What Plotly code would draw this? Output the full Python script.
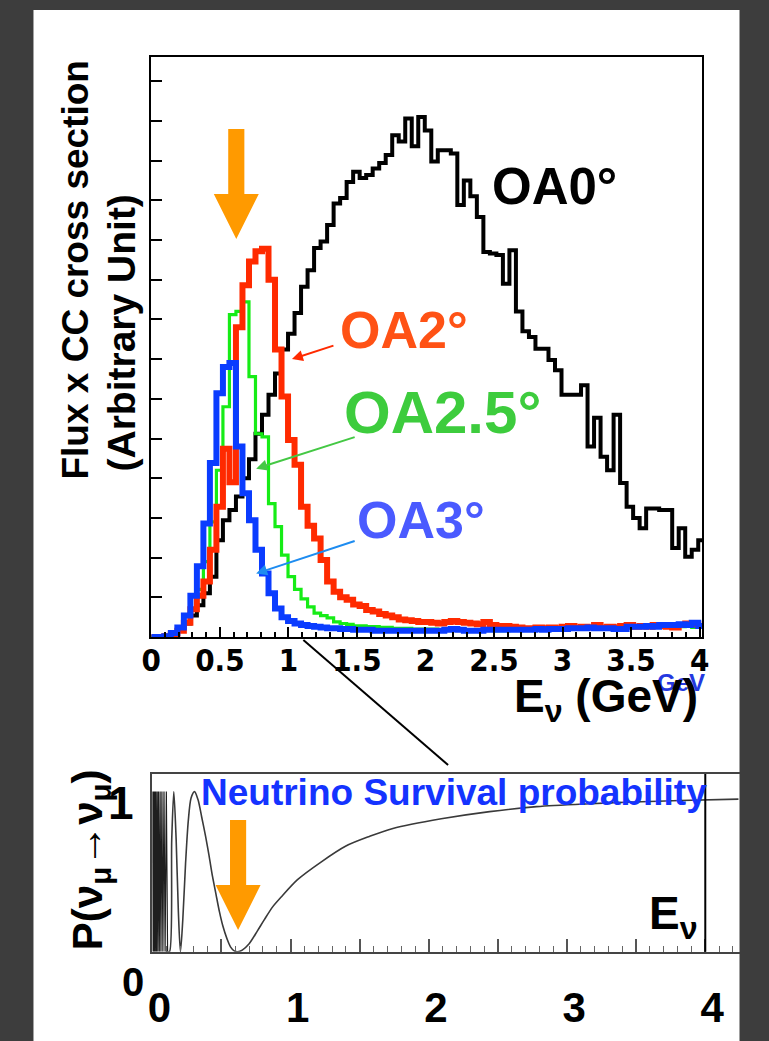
import numpy as np
import plotly.graph_objects as go

W, H = 769, 1041

# ---- flux x CC cross section (arbitrary units), bins of 0.0475 GeV from 0 ----
bin_width = 0.0475
oa0 = [0.00, 0.00, 0.01, 0.04, 0.10, 0.17, 0.27, 0.40, 0.55, 0.76,
       1.22, 1.47, 1.60, 1.77, 2.00, 2.24, 2.56, 2.80, 3.05, 3.32,
       3.62, 3.82, 4.08, 4.41, 4.62, 4.90, 4.98, 5.19, 5.46, 5.53,
       5.73, 5.86, 5.78, 5.82, 5.90, 5.97, 6.07, 6.32, 6.24, 6.53,
       6.18, 6.55, 6.38, 5.99, 6.13, 6.13, 6.09, 5.44, 5.75, 5.55,
       5.29, 4.85, 4.83, 4.81, 4.45, 4.87, 4.10, 3.85, 3.78, 3.63,
       3.63, 3.49, 3.36, 3.05, 3.05, 3.05, 3.17, 2.40, 2.76, 2.27,
       2.10, 2.80, 1.94, 1.64, 1.50, 1.37, 1.62, 1.62, 1.60, 1.60,
       1.12, 1.37, 1.01, 1.10, 1.22]
oa2 = [0.00, 0.00, 0.01, 0.03, 0.08, 0.18, 0.35, 0.52, 0.70, 1.10,
       1.64, 2.37, 1.95, 3.90, 4.43, 4.73, 4.86, 4.89, 4.50, 3.62,
       3.03, 2.48, 2.17, 1.64, 1.40, 1.24, 0.97, 0.70, 0.57, 0.50,
       0.47, 0.41, 0.39, 0.34, 0.32, 0.29, 0.27, 0.25, 0.22, 0.21,
       0.20, 0.19, 0.19, 0.18, 0.17, 0.19, 0.20, 0.19, 0.18, 0.17,
       0.16, 0.19, 0.15, 0.14, 0.14, 0.13, 0.12, 0.11, 0.11, 0.12,
       0.11, 0.12, 0.11, 0.13, 0.14, 0.12, 0.13, 0.12, 0.15, 0.12,
       0.13, 0.12, 0.14, 0.15, 0.13, 0.14, 0.13, 0.15, 0.14, 0.13,
       0.12, 0.15, 0.17, 0.16, 0.14]
oa25 = [0.00, 0.00, 0.01, 0.03, 0.08, 0.18, 0.35, 0.60, 0.95, 1.45,
        2.10, 2.90, 4.06, 4.10, 4.22, 3.28, 2.56, 2.52, 1.68, 1.39,
        1.03, 0.76, 0.60, 0.48, 0.38, 0.30, 0.27, 0.24, 0.19, 0.17,
        0.16, 0.14, 0.14, 0.13, 0.13, 0.12, 0.12, 0.11, 0.11, 0.11,
        0.10, 0.10, 0.10, 0.10, 0.09, 0.09, 0.10, 0.09, 0.09, 0.08,
        0.09, 0.09, 0.09, 0.08, 0.08, 0.09, 0.09, 0.10, 0.09, 0.09,
        0.10, 0.10, 0.10, 0.10, 0.11, 0.11, 0.10, 0.11, 0.11, 0.10,
        0.10, 0.10, 0.11, 0.12, 0.12, 0.12, 0.13, 0.12, 0.13, 0.14,
        0.14, 0.13, 0.15, 0.12, 0.12]
oa3 = [0.00, 0.00, 0.01, 0.05, 0.12, 0.27, 0.52, 0.89, 1.43, 2.19,
       3.07, 3.40, 3.45, 2.40, 1.81, 1.47, 1.10, 0.80, 0.55, 0.36,
       0.25, 0.20, 0.17, 0.15, 0.14, 0.13, 0.12, 0.11, 0.11, 0.10,
       0.10, 0.09, 0.09, 0.09, 0.08, 0.08, 0.08, 0.08, 0.08, 0.08,
       0.08, 0.08, 0.08, 0.08, 0.08, 0.09, 0.10, 0.09, 0.08, 0.08,
       0.08, 0.09, 0.09, 0.09, 0.09, 0.09, 0.09, 0.09, 0.09, 0.10,
       0.09, 0.10, 0.10, 0.10, 0.11, 0.11, 0.11, 0.12, 0.11, 0.11,
       0.11, 0.10, 0.10, 0.13, 0.13, 0.13, 0.14, 0.13, 0.15, 0.15,
       0.15, 0.16, 0.15, 0.18, 0.14]

# ---- nu_mu survival probability vs E (GeV) ----
# fast oscillations at low energy
band_e = [0.000, 0.004, 0.008, 0.012, 0.016, 0.020, 0.024, 0.029, 0.034, 0.039,
          0.044, 0.050, 0.056, 0.062, 0.069, 0.076, 0.084, 0.092, 0.101, 0.110]
band_p = [1, 0, 1, 0, 1, 0, 1, 0, 1, 0, 1, 0, 1, 0, 1, 0, 1, 0, 1, 0]
surv_e = [0.110, 0.124, 0.140, 0.155, 0.172, 0.188, 0.203, 0.220, 0.240, 0.260,
          0.280, 0.305, 0.330, 0.357, 0.385, 0.410, 0.435, 0.460, 0.485, 0.510,
          0.540, 0.565, 0.592, 0.618, 0.650, 0.700, 0.760, 0.810, 0.870, 0.930,
          1.050, 1.220, 1.400, 1.570, 1.740, 2.090, 2.440, 2.780, 3.130, 3.480,
          3.820, 4.240]
surv_p = [0.00, 0.00, 0.70, 1.00, 0.70, 0.25, 0.00, 0.20, 0.55, 0.82,
          0.96, 1.00, 0.95, 0.84, 0.72, 0.60, 0.47, 0.36, 0.25, 0.16,
          0.08, 0.03, 0.005, 0.00, 0.01, 0.05, 0.13, 0.20, 0.28, 0.34,
          0.45, 0.56, 0.66, 0.72, 0.77, 0.83, 0.875, 0.906, 0.923, 0.935,
          0.944, 0.953]

osc_max_e = 0.62   # first oscillation maximum (GeV)

series = [
    ("OA0°", oa0, "#000000", 4.0),
    ("OA2.5°", oa25, "#16ec16", 3.2),
    ("OA2°", oa2, "#ff2a00", 6.0),
    ("OA3°", oa3, "#0a3cff", 6.0),
]

# ---- layout geometry (pixels) ----
TOP_X0, TOP_X1, TOP_Y0, TOP_Y1 = 144.5, 708.0, 57.0, 637.0
TOP_XR = [0, 4.02]
TOP_YR = [0, 7.305]
BOT_X0, BOT_X1, BOT_Y0, BOT_Y1 = 145.6, 746.0, 774.0, 951.7
BOT_XR = [0, (BOT_X1 - BOT_X0) / 141.35]
BOT_YR = [0, 1.11]


def px(x):
    return x / W


def py(y):
    return 1 - y / H


def top_to_px(e):
    return TOP_X0 + (e - TOP_XR[0]) / (TOP_XR[1] - TOP_XR[0]) * (TOP_X1 - TOP_X0)


def bot_to_px(e):
    return BOT_X0 + (e - BOT_XR[0]) / (BOT_XR[1] - BOT_XR[0]) * (BOT_X1 - BOT_X0)


fig = go.Figure()

edges = np.arange(len(oa0) + 1) * bin_width
for name, vals, color, lw in series:
    fig.add_trace(go.Scatter(
        x=edges, y=list(vals) + [vals[-1]], mode="lines", name=name,
        line=dict(color=color, width=lw, shape="hv"),
        xaxis="x", yaxis="y", showlegend=False, hoverinfo="skip"))

fig.add_trace(go.Scatter(
    x=band_e, y=band_p, mode="lines", line=dict(color="#1e1e1e", width=1.2),
    xaxis="x2", yaxis="y2", showlegend=False, hoverinfo="skip"))
fig.add_trace(go.Scatter(
    x=surv_e, y=surv_p, mode="lines",
    line=dict(color="#3a3a3a", width=1.6, shape="spline", smoothing=0.8),
    xaxis="x2", yaxis="y2", showlegend=False, hoverinfo="skip"))

BOLD = "Liberation Sans, Arial, Helvetica, sans-serif"
NARROW = "Liberation Sans Narrow, Arial Narrow, DejaVu Sans Condensed, Liberation Sans, Arial, sans-serif"

fig.update_layout(
    width=W, height=H, margin=dict(l=0, r=0, t=0, b=0),
    paper_bgcolor="#3d3d3d", plot_bgcolor="rgba(0,0,0,0)",
    xaxis=dict(
        domain=[px(TOP_X0), px(TOP_X1)], range=TOP_XR, anchor="y",
        showgrid=False, zeroline=False, showline=True, linecolor="black",
        linewidth=2, mirror=True, ticks="inside", tick0=0, dtick=0.5,
        ticklen=10, tickwidth=2, tickcolor="black",
        minor=dict(dtick=0.1, ticks="inside", ticklen=5, tickwidth=1.5,
                   tickcolor="black"),
        tickfont=dict(family=NARROW, size=31, color="black", weight="bold"),
        ticklabelstandoff=-5),
    yaxis=dict(
        domain=[py(TOP_Y1), py(TOP_Y0)], range=TOP_YR, anchor="x",
        showgrid=False, zeroline=False, showline=True, linecolor="black",
        linewidth=2, mirror=True, ticks="inside", tick0=0, dtick=0.5,
        ticklen=11, tickwidth=2, tickcolor="black", showticklabels=False),
    xaxis2=dict(
        domain=[px(BOT_X0), px(BOT_X1)], range=BOT_XR, anchor="y2",
        showgrid=False, zeroline=False, showline=True, linecolor="#444",
        linewidth=2, mirror=True, ticks="inside",
        tickvals=[0, 0.5, 1, 1.5, 2, 2.5, 3, 3.5, 4],
        ticktext=["0", " ", "1", " ", "2", " ", "3", " ", "4"],
        ticklen=13, tickwidth=1.5, tickcolor="#555",
        minor=dict(dtick=0.1, ticks="inside", ticklen=6, tickwidth=1,
                   tickcolor="#666"),
        tickfont=dict(family=BOLD, size=42, color="black", weight="bold"),
        ticklabelshift=7, ticklabelstandoff=18),
    yaxis2=dict(
        domain=[py(BOT_Y1), py(BOT_Y0)], range=BOT_YR, anchor="x2",
        showgrid=False, zeroline=False, showline=True, linecolor="#444",
        linewidth=2, ticks="", showticklabels=False),
)

shapes = []
# white page
shapes.append(dict(type="rect", xref="paper", yref="paper", layer="below",
                   x0=px(24), x1=px(746), y0=py(1041), y1=py(10),
                   fillcolor="white", line=dict(width=0)))


def down_arrow(xc, y_top, color):
    shaft_w, shaft_len, head_w, head_h = 16.5, 65, 46, 45
    pts = [(xc - shaft_w / 2, y_top), (xc + shaft_w / 2, y_top),
           (xc + shaft_w / 2, y_top + shaft_len), (xc + head_w / 2, y_top + shaft_len),
           (xc, y_top + shaft_len + head_h), (xc - head_w / 2, y_top + shaft_len),
           (xc - shaft_w / 2, y_top + shaft_len)]
    path = "M " + " L ".join(f"{px(a):.5f},{py(b):.5f}" for a, b in pts) + " Z"
    return dict(type="path", xref="paper", yref="paper", path=path,
                fillcolor=color, line=dict(width=0), layer="above")


shapes.append(down_arrow(top_to_px(osc_max_e), 129, "#ff9a00"))
shapes.append(down_arrow(bot_to_px(osc_max_e), 820, "#ff9a00"))

# zoom connector between the panels
shapes.append(dict(type="line", xref="paper", yref="paper",
                   x0=px(300), y0=py(640), x1=px(448), y1=py(765),
                   line=dict(color="black", width=2)))
# right edge of the probability frame at E = 4 GeV
shapes.append(dict(type="line", xref="x2", yref="paper", x0=4, x1=4,
                   y0=py(BOT_Y1), y1=py(BOT_Y0), line=dict(color="black", width=2)))
fig.update_layout(shapes=shapes)

ann = []


def label(text, X, Y, size, color, xanchor="center", yanchor="middle", **kw):
    d = dict(text=text, x=px(X), y=py(Y), xref="paper", yref="paper",
             xanchor=xanchor, yanchor=yanchor, showarrow=False,
             font=dict(family=BOLD, size=size, color=color, weight="bold"))
    d.update(kw)
    ann.append(d)


label("OA0°", 557, 186, 51, "black")
label("OA2°", 403, 330, 52, "#ff5215")
label("OA2.5°", 442, 412, 60, "#3dcc3d")
label("OA3°", 420, 520, 52, "#4a5aff")

label("Flux x CC cross section", 66, 270, 37, "black", textangle=-90)
label("(Arbitrary Unit)", 114, 333, 39, "black", textangle=-90)

label("GeV", 686, 682, 24, "#2438e0")
label("E<sub>ν</sub> (GeV)", 706, 699, 46, "black", xanchor="right")

label("Neutrino Survival probability", 454, 792, 37, "#1433ff")
label("E<sub>ν</sub>", 678, 916, 46, "black")
label("1", 114, 803, 46, "black")
label("0", 126, 982, 40, "black")
label("P(ν<sub>μ</sub>→ν<sub>μ</sub>)", 82, 860, 42, "black", textangle=-90)


def pointer(e, v, ax, ay, color):
    ann.append(dict(x=e, y=v, xref="x", yref="y", ax=ax, ay=ay, text="",
                    showarrow=True, arrowhead=2, arrowsize=1.1, arrowwidth=2,
                    arrowcolor=color))


pointer(1.026, 3.50, 43, -14, "#ff2a00")
pointer(0.765, 2.12, 100, -32, "#44c844")
pointer(0.765, 0.80, 100, -33, "#1e8cf0")

fig.update_layout(annotations=ann)

fig.write_html("out.html")
